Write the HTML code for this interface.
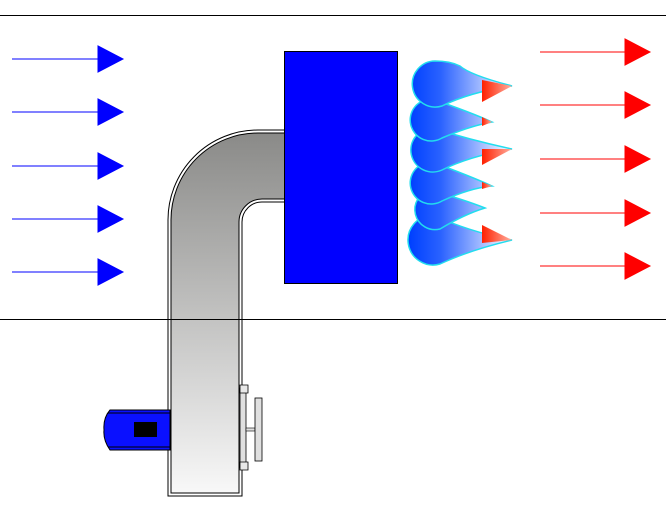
<!DOCTYPE html>
<html><head><style>body{margin:0;background:#fff}svg{display:block}</style></head><body>
<svg width="666" height="513" viewBox="0 0 666 513" xmlns="http://www.w3.org/2000/svg">
<defs>
<linearGradient id="duct" x1="0" y1="0" x2="0" y2="1">
<stop offset="0" stop-color="#8a8a88"/><stop offset="1" stop-color="#f8f8f8"/></linearGradient>
<linearGradient id="cl" x1="410" y1="0" x2="512" y2="0" gradientUnits="userSpaceOnUse">
<stop offset="0" stop-color="#0040ff"/><stop offset="0.3" stop-color="#2a62ff"/><stop offset="1" stop-color="#ffffff"/></linearGradient>
<linearGradient id="rd" x1="0" y1="0" x2="1" y2="0">
<stop offset="0" stop-color="#ff2000"/><stop offset="1" stop-color="#ffb0a0"/></linearGradient>
</defs>
<line x1="0" y1="15.5" x2="666" y2="15.5" stroke="#000"/>
<g stroke="#0000ff" fill="#0000ff">
<line x1="12" y1="59" x2="100" y2="59"/><polygon points="98,46 123,59 98,72"/>
<line x1="12" y1="112" x2="100" y2="112"/><polygon points="98,99 123,112 98,125"/>
<line x1="12" y1="166" x2="100" y2="166"/><polygon points="98,153 123,166 98,179"/>
<line x1="12" y1="219" x2="100" y2="219"/><polygon points="98,206 123,219 98,232"/>
<line x1="12" y1="272" x2="100" y2="272"/><polygon points="98,259 123,272 98,285"/>
</g>
<g stroke="#ff0000" fill="#ff0000">
<line x1="540" y1="52" x2="627" y2="52"/><polygon points="625,39 650,52 625,65"/>
<line x1="540" y1="105" x2="627" y2="105"/><polygon points="625,92 650,105 625,118"/>
<line x1="540" y1="159" x2="627" y2="159"/><polygon points="625,146 650,159 625,172"/>
<line x1="540" y1="213" x2="627" y2="213"/><polygon points="625,200 650,213 625,226"/>
<line x1="540" y1="266" x2="627" y2="266"/><polygon points="625,253 650,266 625,279"/>
</g>
<path d="M168,496 V221 A90,90 0 0 1 258,130 H286 V202 H262 A20,20 0 0 0 242,222 V496 Z" fill="#fff" stroke="#000" stroke-width="1"/>
<path d="M171,493 V221 A87,87 0 0 1 258,133 H286 V199 H262 A23,23 0 0 0 239,222 V493 Z" fill="url(#duct)" stroke="#000" stroke-width="1"/>
<line x1="0" y1="319.5" x2="666" y2="319.5" stroke="#000"/>
<rect x="240" y="388" width="6" height="80" fill="#e0e0e0" stroke="#000" stroke-width="0.8"/>
<path d="M240,385 h8 v8 h-8z M240,462 h8 v8 h-8z" fill="#e8e8e8" stroke="#000" stroke-width="0.8"/>
<rect x="246" y="428" width="9" height="3" fill="#e0e0e0" stroke="#000" stroke-width="0.6"/>
<rect x="255" y="398" width="7" height="63" fill="#e0e0e0" stroke="#000" stroke-width="0.8"/>
<path d="M110,410 H170 V450 H110 Q103,440 104,430 Q103,418 110,410 Z" fill="#0a10ff" stroke="#000" stroke-width="1"/>
<line x1="108" y1="413" x2="170" y2="413" stroke="#000"/>
<line x1="108" y1="447" x2="170" y2="447" stroke="#000"/>
<rect x="134" y="422" width="23" height="15" fill="#000"/>
<rect x="284.5" y="51.5" width="113" height="232" fill="#0000ff" stroke="#000"/>
<g fill="url(#cl)" stroke="#22ddee" stroke-width="1.5">
<path d="M433,240 m0,-25 A25,25 0 1 0 440,264 Q470,250 512,240 Q470,232 433,215 Z"/>
<path d="M430,210 m0,-20 A20,20 0 1 0 440,229 Q465,214 485,208 Q465,200 430,190 Z"/>
<path d="M432,183 m0,-21 A21,21 0 1 0 442,201 Q470,188 492,186 Q470,176 432,162 Z"/>
<path d="M433,150 m0,-22 A22,22 0 1 0 442,170 Q470,156 512,149 Q470,140 433,128 Z"/>
<path d="M432,120 m0,-21 A21,21 0 1 0 442,138 Q470,126 492,122 Q470,112 432,99 Z"/>
<path d="M435,84 m0,-23 A23,23 0 1 0 442,106 Q470,92 512,86 Q470,75 460,66 Q450,61 435,61 Z"/>
</g>
<g fill="url(#rd)">
<polygon points="482,80 512,86 482,102"/>
<polygon points="482,117 492,122 482,126"/>
<polygon points="482,149 512,149 482,165"/>
<polygon points="482,182 492,186 482,189"/>
<polygon points="482,225 512,240 482,243"/>
</g>
</svg>
</body></html>
